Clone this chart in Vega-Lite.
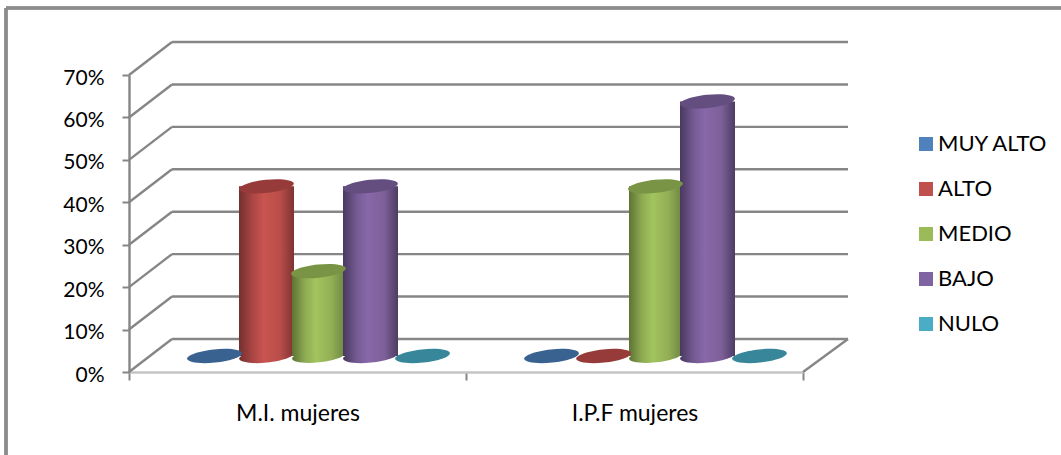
{
"$schema":"https://vega.github.io/schema/vega-lite/v6.json",
"width":674,"height":297,
"autosize":{"type":"none"},
"padding":{"left":129,"top":75,"right":258,"bottom":83},
"background":"#ffffff",
"config":{"view":{"stroke":null},"font":"Lato"},
"datasets":{
"rows":[
{"category":"M.I. mujeres","series":"MUY ALTO","value":0},
{"category":"M.I. mujeres","series":"ALTO","value":0.4},
{"category":"M.I. mujeres","series":"MEDIO","value":0.2},
{"category":"M.I. mujeres","series":"BAJO","value":0.4},
{"category":"M.I. mujeres","series":"NULO","value":0},
{"category":"I.P.F mujeres","series":"MUY ALTO","value":0},
{"category":"I.P.F mujeres","series":"ALTO","value":0},
{"category":"I.P.F mujeres","series":"MEDIO","value":0.4},
{"category":"I.P.F mujeres","series":"BAJO","value":0.6},
{"category":"I.P.F mujeres","series":"NULO","value":0}
],
"grid":[{"v":0},{"v":0.1},{"v":0.2},{"v":0.3},{"v":0.4},{"v":0.5},{"v":0.6},{"v":0.7}]
},
"data":{"name":"rows"},
"resolve":{"scale":{"x":"independent"}},
"layer":[
{"data":{"name":"grid"},"layer":[
{"mark":{"type":"rule","color":"#8c8c8c","strokeWidth":2.5,"xOffset":-123,"yOffset":-67,"x2Offset":258},
 "encoding":{"x":{"datum":0,"type":"quantitative","scale":{"domain":[0,1]},"axis":null},"x2":{"datum":1},"y":{"datum":0.7,"type":"quantitative"}}},
{"mark":{"type":"rule","color":"#8c8c8c","strokeWidth":2.5,"xOffset":-123,"yOffset":-67,"y2Offset":83},
 "encoding":{"x":{"datum":0,"type":"quantitative"},"y":{"datum":0.7,"type":"quantitative"},"y2":{"datum":0}}},
{"mark":{"type":"rule","color":"#868686","strokeWidth":2.4,"xOffset":43,"x2Offset":45,"yOffset":-33},
 "encoding":{"x":{"datum":0,"type":"quantitative"},"x2":{"datum":1},
 "y":{"field":"v","type":"quantitative","scale":{"domain":[0,0.7]},
  "axis":{"values":[0,0.1,0.2,0.3,0.4,0.5,0.6,0.7],"format":".0%","title":null,"grid":false,"domainColor":"#868686","domainWidth":2.4,"tickColor":"#868686","tickWidth":2,"tickSize":7,"labelPadding":18,"labelFontSize":21,"labelOffset":3,"labelColor":"#000000","labelFont":"Lato"}}}},
{"mark":{"type":"rule","color":"#868686","strokeWidth":2.4,"x2Offset":43,"y2Offset":-33},
 "encoding":{"x":{"datum":0,"type":"quantitative"},"x2":{"datum":0},"y":{"field":"v","type":"quantitative"},"y2":{"field":"v"}}},
{"transform":[{"filter":"datum.v==0"}],"mark":{"type":"rule","color":"#868686","strokeWidth":2.4,"x2Offset":45,"y2Offset":-33},
 "encoding":{"x":{"datum":1,"type":"quantitative"},"x2":{"datum":1},"y":{"field":"v","type":"quantitative"},"y2":{"field":"v"}}},
{"data":{"name":"rows"},"mark":{"type":"point","filled":true,"opacity":1,"size":0},
 "encoding":{"y":{"field":"value","type":"quantitative"},
  "color":{"field":"series","type":"nominal","scale":{"domain":["MUY ALTO","ALTO","MEDIO","BAJO","NULO"],"range":["#4F81BD","#C0504D","#9BBB59","#8064A2","#4BACC6"]},
   "legend":{"title":null,"orient":"none","legendX":786,"legendY":58,"symbolType":"square","symbolSize":196,"symbolStrokeWidth":0,"labelFontSize":22,"labelFont":"Lato","labelColor":"#000000","rowPadding":23,"labelOffset":1,"labelLimit":200}}}}
]},
{"layer":[
{"transform":[{"filter":"datum.series=='ALTO'&&datum.value>0"}],"mark":{"type":"point","filled":true,"opacity":1,"size":3025,"yOffset":-16,"angle":-6,"shape":"M-1,0C-1,-0.13 -0.55,-0.24 0,-0.24C0.55,-0.24 1,-0.13 1,0C1,0.13 0.55,0.24 0,0.24C-0.55,0.24 -1,0.13 -1,0Z",
 "color":{"gradient":"linear","x1":0,"y1":0,"x2":1,"y2":0,"stops":[{"offset":0,"color":"#72302e"},{"offset":0.25,"color":"#ab4644"},{"offset":0.45,"color":"#c9544f"},{"offset":0.75,"color":"#b84d4a"},{"offset":1,"color":"#7f3331"}]}},
 "encoding":{"x":{"field":"category","type":"nominal","sort":null},"xOffset":{"field":"series","sort":["MUY ALTO","ALTO","MEDIO","BAJO","NULO"]},"y":{"datum":0,"type":"quantitative"}}},
{"transform":[{"filter":"datum.series=='ALTO'"}],"mark":{"type":"bar","width":55,"yOffset":-16,"y2Offset":-16,
 "color":{"gradient":"linear","x1":0,"y1":0,"x2":1,"y2":0,"stops":[{"offset":0,"color":"#72302e"},{"offset":0.25,"color":"#ab4644"},{"offset":0.45,"color":"#c9544f"},{"offset":0.75,"color":"#b84d4a"},{"offset":1,"color":"#7f3331"}]}},
 "encoding":{"x":{"field":"category","type":"nominal","sort":null},"xOffset":{"field":"series","sort":["MUY ALTO","ALTO","MEDIO","BAJO","NULO"]},"y":{"field":"value","type":"quantitative"}}},
{"transform":[{"filter":"datum.series=='MEDIO'&&datum.value>0"}],"mark":{"type":"point","filled":true,"opacity":1,"size":2809,"yOffset":-16,"angle":-6,"shape":"M-1,0C-1,-0.13 -0.55,-0.24 0,-0.24C0.55,-0.24 1,-0.13 1,0C1,0.13 0.55,0.24 0,0.24C-0.55,0.24 -1,0.13 -1,0Z",
 "color":{"gradient":"linear","x1":0,"y1":0,"x2":1,"y2":0,"stops":[{"offset":0,"color":"#5d7335"},{"offset":0.25,"color":"#8fac52"},{"offset":0.45,"color":"#a2c45e"},{"offset":0.75,"color":"#92ae55"},{"offset":1,"color":"#6d8640"}]}},
 "encoding":{"x":{"field":"category","type":"nominal","sort":null},"xOffset":{"field":"series","sort":["MUY ALTO","ALTO","MEDIO","BAJO","NULO"]},"y":{"datum":0,"type":"quantitative"}}},
{"transform":[{"filter":"datum.series=='MEDIO'"}],"mark":{"type":"bar","width":53,"yOffset":-16,"y2Offset":-16,
 "color":{"gradient":"linear","x1":0,"y1":0,"x2":1,"y2":0,"stops":[{"offset":0,"color":"#5d7335"},{"offset":0.25,"color":"#8fac52"},{"offset":0.45,"color":"#a2c45e"},{"offset":0.75,"color":"#92ae55"},{"offset":1,"color":"#6d8640"}]}},
 "encoding":{"x":{"field":"category","type":"nominal","sort":null},"xOffset":{"field":"series","sort":["MUY ALTO","ALTO","MEDIO","BAJO","NULO"]},"y":{"field":"value","type":"quantitative"}}},
{"transform":[{"filter":"datum.series=='BAJO'&&datum.value>0"}],"mark":{"type":"point","filled":true,"opacity":1,"size":3025,"yOffset":-16,"angle":-6,"shape":"M-1,0C-1,-0.13 -0.55,-0.24 0,-0.24C0.55,-0.24 1,-0.13 1,0C1,0.13 0.55,0.24 0,0.24C-0.55,0.24 -1,0.13 -1,0Z",
 "color":{"gradient":"linear","x1":0,"y1":0,"x2":1,"y2":0,"stops":[{"offset":0,"color":"#49385f"},{"offset":0.25,"color":"#745b94"},{"offset":0.45,"color":"#8868a8"},{"offset":0.75,"color":"#7d6099"},{"offset":1,"color":"#4d3c64"}]}},
 "encoding":{"x":{"field":"category","type":"nominal","sort":null},"xOffset":{"field":"series","sort":["MUY ALTO","ALTO","MEDIO","BAJO","NULO"]},"y":{"datum":0,"type":"quantitative"}}},
{"transform":[{"filter":"datum.series=='BAJO'"}],"mark":{"type":"bar","width":55,"yOffset":-16,"y2Offset":-16,
 "color":{"gradient":"linear","x1":0,"y1":0,"x2":1,"y2":0,"stops":[{"offset":0,"color":"#49385f"},{"offset":0.25,"color":"#745b94"},{"offset":0.45,"color":"#8868a8"},{"offset":0.75,"color":"#7d6099"},{"offset":1,"color":"#4d3c64"}]}},
 "encoding":{"x":{"field":"category","type":"nominal","sort":null},"xOffset":{"field":"series","sort":["MUY ALTO","ALTO","MEDIO","BAJO","NULO"]},"y":{"field":"value","type":"quantitative"}}},
{"mark":{"type":"point","filled":true,"opacity":1,"size":3025,"yOffset":-16,"angle":-6,"shape":"M-1,0C-1,-0.13 -0.55,-0.24 0,-0.24C0.55,-0.24 1,-0.13 1,0C1,0.13 0.55,0.24 0,0.24C-0.55,0.24 -1,0.13 -1,0Z"},
 "encoding":{"x":{"field":"category","type":"nominal","sort":null,
   "scale":{"paddingInner":0,"paddingOuter":0},
   "axis":{"orient":"bottom","title":null,"labelAngle":0,"labelAlign":"center","tickBand":"extent","domainColor":"#c4c4c4","domainWidth":2.4,"tickColor":"#868686","tickWidth":2,"tickSize":8,"labelPadding":33,"labelFontSize":23,"labelColor":"#000000","labelFont":"Lato"}},
  "xOffset":{"field":"series","sort":["MUY ALTO","ALTO","MEDIO","BAJO","NULO"],"scale":{"paddingInner":0,"paddingOuter":0.74,"range":[21,358]}},
  "y":{"field":"value","type":"quantitative"},
  "fill":{"field":"series","type":"nominal","legend":null,"scale":{"domain":["MUY ALTO","ALTO","MEDIO","BAJO","NULO"],"range":["#3a6291","#963b39","#7a9445","#644e80","#37869a"]}}}}
]}
]
}
